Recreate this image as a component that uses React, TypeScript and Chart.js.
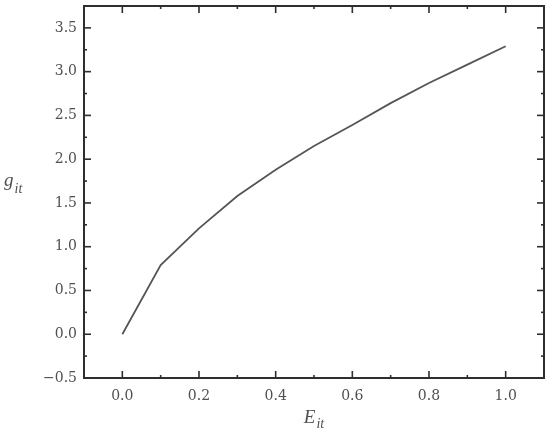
import React, { useEffect, useRef } from "react";
import { Chart, registerables } from "chart.js";

Chart.register(...registerables);

const xValues = [0, 0.1, 0.2, 0.3, 0.4, 0.5, 0.6, 0.7, 0.8, 0.9, 1.0];
const gValues = [0, 0.79, 1.21, 1.58, 1.88, 2.15, 2.39, 2.64, 2.87, 3.08, 3.29];
const xMajorTicks = [0, 0.2, 0.4, 0.6, 0.8, 1.0];
const xMinorTicks = [-0.1, 0.1, 0.3, 0.5, 0.7, 0.9, 1.1];
const yMajorTicks = [-0.5, 0, 0.5, 1.0, 1.5, 2.0, 2.5, 3.0, 3.5];
const yMinorTicks = [-0.25, 0.25, 0.75, 1.25, 1.75, 2.25, 2.75, 3.25, 3.75];
const xTitleMain = "E";
const yTitleMain = "g";
const titleSub = "it";

const FRAME = "#2e2e2e";
const TEXT = "#505050";

const frameTicks = {
  id: "frameTicks",
  afterDraw(chart: any) {
    const { ctx, chartArea: a, scales } = chart;
    const xs = scales.x;
    const ys = scales.y;
    ctx.save();
    ctx.strokeStyle = FRAME;
    ctx.lineWidth = 2;
    ctx.strokeRect(a.left, a.top, a.right - a.left, a.bottom - a.top);
    ctx.lineWidth = 1.6;
    const seg = (x1: number, y1: number, x2: number, y2: number) => {
      ctx.beginPath();
      ctx.moveTo(x1, y1);
      ctx.lineTo(x2, y2);
      ctx.stroke();
    };
    const xt = (vals: number[], len: number) => {
      vals.forEach((v) => {
        const px = xs.getPixelForValue(v);
        if (px < a.left + 1 || px > a.right - 1) return;
        seg(px, a.bottom, px, a.bottom - len);
        seg(px, a.top, px, a.top + len);
      });
    };
    const yt = (vals: number[], len: number) => {
      vals.forEach((v) => {
        const py = ys.getPixelForValue(v);
        if (py < a.top + 1 || py > a.bottom - 1) return;
        seg(a.left, py, a.left + len, py);
        seg(a.right, py, a.right - len, py);
      });
    };
    xt(xMajorTicks, 7);
    xt(xMinorTicks, 3);
    yt(yMajorTicks, 7);
    yt(yMinorTicks, 3);

    // axis titles with subscripts
    ctx.fillStyle = TEXT;
    ctx.textBaseline = "alphabetic";
    ctx.textAlign = "left";
    const mainFont = 'italic 19px "Liberation Serif"';
    const subFont = 'italic 14px "Liberation Serif"';
    ctx.font = mainFont;
    const eW = ctx.measureText(xTitleMain).width;
    ctx.font = subFont;
    const sW = ctx.measureText(titleSub).width;
    const cx = (a.left + a.right) / 2;
    const x0 = cx - (eW + sW + 1) / 2;
    ctx.font = mainFont;
    ctx.fillText(xTitleMain, x0, 423);
    ctx.font = subFont;
    ctx.fillText(titleSub, x0 + eW + 1, 428);

    const cy = (a.top + a.bottom) / 2;
    ctx.font = mainFont;
    const gW = ctx.measureText(yTitleMain).width;
    ctx.fillText(yTitleMain, 4, cy - 6);
    ctx.font = subFont;
    ctx.fillText(titleSub, 4 + gW + 1, cy + 1);
    ctx.restore();
  },
};

export default function App() {
  const ref = useRef<HTMLCanvasElement>(null);
  useEffect(() => {
    document.body.style.margin = "0";
    const chart = new Chart(ref.current as HTMLCanvasElement, {
      type: "line",
      data: {
        datasets: [
          {
            data: xValues.map((x, i) => ({ x, y: gValues[i] })),
            borderColor: "#555555",
            borderWidth: 1.8,
            pointRadius: 0,
            tension: 0,
            fill: false,
          },
        ],
      },
      options: {
        animation: false,
        responsive: false,
        maintainAspectRatio: false,
        layout: { padding: { left: 0, top: 6, right: 6, bottom: 0 } },
        plugins: { legend: { display: false }, tooltip: { enabled: false } },
        scales: {
          x: {
            type: "linear",
            min: -0.1,
            max: 1.1,
            afterBuildTicks: (s: any) => {
              s.ticks = xMajorTicks.map((v) => ({ value: v }));
            },
            afterFit: (s: any) => {
              s.height = 432 - 378;
              s.paddingLeft = 0;
              s.paddingRight = 0;
            },
            grid: { display: false, drawTicks: false },
            border: { display: false },
            ticks: {
              padding: 10,
              color: TEXT,
              font: { family: '"DejaVu Serif"', size: 14 },
              callback: (v: any) => Number(v).toFixed(1),
              maxRotation: 0,
              autoSkip: false,
            },
          },
          y: {
            type: "linear",
            min: -0.5,
            max: 3.75,
            afterBuildTicks: (s: any) => {
              s.ticks = yMajorTicks.map((v) => ({ value: v }));
            },
            afterFit: (s: any) => {
              s.width = 84;
              s.paddingTop = 0;
              s.paddingBottom = 0;
            },
            grid: { display: false, drawTicks: false },
            border: { display: false },
            ticks: {
              padding: 7,
              color: TEXT,
              font: { family: '"DejaVu Serif"', size: 14 },
              callback: (v: any) => {
                const n = Number(v);
                return n < 0 ? "\u2212" + Math.abs(n).toFixed(1) : n.toFixed(1);
              },
              autoSkip: false,
            },
          },
        },
      },
      plugins: [frameTicks],
    });
    return () => chart.destroy();
  }, []);
  return <canvas ref={ref} width={550} height={432} style={{ display: "block" }} />;
}
